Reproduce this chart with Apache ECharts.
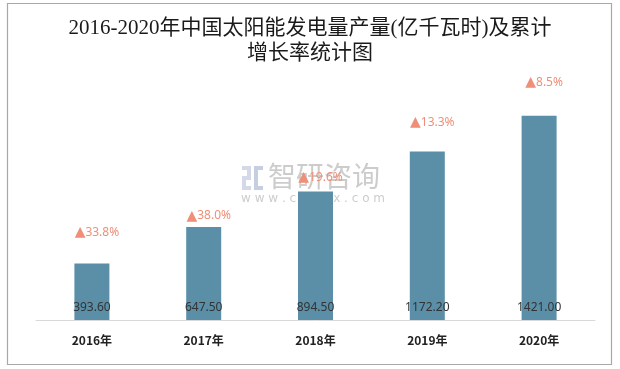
<!DOCTYPE html>
<html>
<head>
<meta charset="utf-8">
<script src="https://cdn.jsdelivr.net/npm/echarts@6/dist/echarts.min.js"></script>
<style>html,body{margin:0;padding:0;background:#fff;}#c{width:620px;height:369px;}</style>
</head>
<body>
<div id="c"></div>
<script>
const categories = ['2016年', '2017年', '2018年', '2019年', '2020年'];
const output = [393.6, 647.5, 894.5, 1172.2, 1421.0];
const growth = [33.8, 38.0, 19.6, 13.3, 8.5];

// style: gap between bar top and growth label for each bar
const growthGap = [24, 4, 7, 22, 26];

const chart = echarts.init(document.getElementById('c'), null, {renderer: 'canvas'});
const option = {
  animation: false,
  title: {
    text: '2016-2020年中国太阳能发电量产量(亿千瓦时)及累计\n增长率统计图',
    left: 'center',
    top: 11,
    textStyle: {
      fontFamily: "'Liberation Serif', 'Noto Sans CJK SC'",
      fontSize: 21,
      fontWeight: 'normal',
      color: '#1a1a1a',
      lineHeight: 25
    }
  },
  grid: {left: 36, right: 25, top: 90, bottom: 49},
  xAxis: {
    type: 'category',
    data: categories,
    axisLine: {lineStyle: {color: '#d9d9d9', width: 1}},
    axisTick: {show: false},
    axisLabel: {
      margin: 14,
      fontSize: 12,
      fontWeight: 'bold',
      color: '#222',
      fontFamily: "'Noto Sans CJK SC', sans-serif"
    }
  },
  yAxis: {
    type: 'value',
    min: 0,
    max: 1600,
    show: false,
    splitLine: {show: false}
  },
  graphic: [
    {
      type: 'rect', z: 100, silent: true,
      shape: {x: 7.5, y: 3.5, width: 604, height: 361},
      style: {fill: 'none', stroke: '#a8a8a8', lineWidth: 1.2}
    },
    {
      type: 'group', z: 0, left: 242, top: 166,
      children: [
        {type: 'rect', shape: {x: 0, y: 0, width: 9, height: 4}, style: {fill: '#d3d9e8'}},
        {type: 'rect', shape: {x: 5, y: 4, width: 4, height: 9}, style: {fill: '#d3d9e8'}},
        {type: 'rect', shape: {x: 0, y: 10, width: 9, height: 4}, style: {fill: '#d3d9e8'}},
        {type: 'rect', shape: {x: 0, y: 14, width: 4, height: 9}, style: {fill: '#d3d9e8'}},
        {type: 'rect', shape: {x: 0, y: 20, width: 9, height: 4}, style: {fill: '#d3d9e8'}},
        {type: 'rect', shape: {x: 12, y: 0, width: 4, height: 24}, style: {fill: '#c6cee1'}},
        {type: 'rect', shape: {x: 16, y: 0, width: 5, height: 4}, style: {fill: '#c6cee1'}},
        {type: 'rect', shape: {x: 16, y: 20, width: 5, height: 4}, style: {fill: '#c6cee1'}}
      ]
    },
    {
      type: 'text', z: 0, left: 268, top: 162,
      style: {text: '智研咨询', fontSize: 28, fill: 'rgba(170,170,170,0.6)', fontFamily: "'Noto Sans CJK SC', sans-serif"}
    },
    {
      type: 'text', z: 0, left: 241, top: 193,
      style: {text: 'w w w . c h y x x . c o m', fontSize: 12, fill: 'rgba(170,170,170,0.6)', fontFamily: "'DejaVu Sans', sans-serif"}
    }
  ],
  series: [
    {
      name: '产量',
      type: 'bar',
      data: output,
      barWidth: 35,
      z: 2,
      itemStyle: {color: '#5a8fa7'},
      label: {
        show: true,
        position: 'insideBottom',
        distance: 6,
        color: '#333',
        fontSize: 12,
        fontFamily: "'Noto Sans', sans-serif",
        formatter: p => p.value.toFixed(2)
      }
    },
    {
      name: '累计增长率',
      type: 'bar',
      barGap: '-100%',
      barWidth: 35,
      z: 3,
      silent: true,
      itemStyle: {color: 'rgba(0,0,0,0)'},
      data: output.map((v, i) => ({
        value: v,
        label: {distance: growthGap[i]}
      })),
      label: {
        show: true,
        position: 'top',
        offset: [5, 0],
        color: '#ef8f78',
        fontSize: 12,
        fontFamily: "'Noto Sans', sans-serif",
        formatter: p => '{t|▲}' + growth[p.dataIndex].toFixed(1) + '%',
        rich: {
          t: {fontFamily: "'DejaVu Sans'", fontSize: 14, color: '#ef8f78'}
        }
      }
    }
  ]
};
chart.setOption(option);
</script>
</body>
</html>
